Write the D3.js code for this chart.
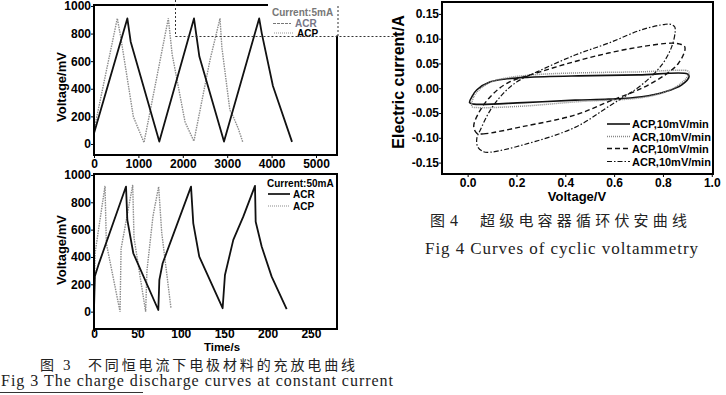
<!doctype html>
<html>
<head>
<meta charset="utf-8">
<style>
  body { margin: 0; background: #fff; }
  svg { display: block; font-family: "Liberation Sans", Arial, sans-serif; }
  .frame { fill: none; stroke: #000; stroke-width: 2; }
  .acr { fill: none; stroke: #111; stroke-width: 1.8; stroke-linejoin: round; }
  .acp { fill: none; stroke: #8c8c8c; stroke-width: 1.4; stroke-dasharray: 1.5 1; }
  .axis text { font-family: "Liberation Sans", Arial, sans-serif; font-size: 12px; font-weight: bold; fill: #000; }
  .axis line { stroke: #000; }
  .title { font-size: 13px; font-weight: bold; fill: #000; }
  .leg { font-size: 10px; font-weight: bold; fill: #000; }
  .leg2 { font-size: 11px; font-weight: bold; fill: #000; }
  .cap-zh { font-family: "Noto Sans CJK SC", sans-serif; font-size: 15px; fill: #222; }
  .cap-en { font-family: "Liberation Serif", "DejaVu Serif", serif; fill: #222; }
</style>
<script src="https://d3js.org/d3.v7.min.js"></script>
</head>
<body>
<svg width="726" height="395"></svg>
<script>
// ---- data ----
// Fig 3, 5mA: [time s, voltage mV]
var acr5mA = [[0,77],[751,910],[826,741],[1471,17],[2252,910],[2373,633],[2928,17],
              [3720,910],[3780,800],[4030,420],[4460,15]];
var acp5mA = [[0,100],[525,910],[600,778],[886,198],[1126,10],[1674,910],[1760,650],
              [2050,160],[2250,20],[2613,609],[2838,910],[2880,700],[3060,246],
              [3136,198],[3248,113],[3350,15]];
// Fig 3, 50mA
var acr50mA = [[0,20],[1,260],[5,340],[36.9,915],[38.4,671],[45.3,427],[74.1,12],
               [75.3,232],[79.1,354],[111.8,915],[114.4,646],[121.3,402],[148.2,25],
               [150.9,268],[160.5,525],[172,695],[185.5,920],[186.3,658],[193.2,476],
               [204.7,256],[222,18]];
var acp50mA = [[0,20],[1.2,427],[12.7,920],[14.2,500],[30,0],[31.2,460],[44.6,927],
               [46.1,540],[59.5,0],[61,300],[68,700],[74.5,915],[78,580],[88.7,25]];
var time5Ticks = [0,1000,2000,3000,4000,5000];
var time50Ticks = [0,50,100,150,200,250];
var voltTicks = [0,200,400,600,800,1000];

// Fig 4, cyclic voltammetry loops: [voltage V, current A]
var cvAcpSolid = [[0.008,-0.029],[0.02,-0.015],[0.038,-0.003],[0.093,0.013],[0.161,0.019],
                  [0.243,0.022],[0.454,0.025],[0.7,0.027],[0.9,0.029],[0.907,0.024],
                  [0.877,0.007],[0.809,-0.007],[0.713,-0.017],[0.577,-0.022],[0.44,-0.024],
                  [0.229,-0.029],[0.025,-0.032]];
var cvAcrDotted = [[0.018,-0.037],[0.025,-0.017],[0.05,-0.002],[0.093,0.012],[0.161,0.021],
                   [0.297,0.028],[0.454,0.031],[0.7,0.033],[0.902,0.035],[0.907,0.032],
                   [0.89,0.017],[0.822,-0.005],[0.713,-0.019],[0.454,-0.027],[0.229,-0.036],
                   [0.04,-0.039]];
var cvAcpDashed = [[0.038,-0.091],[0.065,-0.092],[0.229,-0.077],[0.44,-0.054],[0.577,-0.027],
                   [0.713,0.0],[0.809,0.027],[0.863,0.050],[0.89,0.077],[0.888,0.085],
                   [0.870,0.089],[0.836,0.091],[0.713,0.084],[0.577,0.071],[0.44,0.054],
                   [0.297,0.033],[0.161,0.010],[0.093,-0.017],[0.045,-0.050],[0.025,-0.077]];
var cvAcrDashDot = [[0.041,-0.118],[0.065,-0.128],[0.093,-0.129],[0.229,-0.114],[0.44,-0.079],
                    [0.577,-0.037],[0.713,0.007],[0.795,0.047],[0.836,0.084],[0.85,0.114],
                    [0.848,0.124],[0.832,0.129],[0.809,0.129],[0.713,0.118],[0.577,0.091],
                    [0.44,0.067],[0.284,0.033],[0.202,0.013],[0.147,-0.010],[0.093,-0.044],
                    [0.052,-0.084],[0.038,-0.100]];
var cvVoltTicks = [0.0,0.2,0.4,0.6,0.8,1.0];
var cvCurrTicks = [-0.15,-0.10,-0.05,0.00,0.05,0.10,0.15];
var cvLegend = ["ACP,10mV/min","ACR,10mV/min","ACP,10mV/min","ACR,10mV/min"];

var svg = d3.select("svg");

function panel(box, xDom, yDom, xTicks, yTicks, xFmt, yFmt, xPad) {
    var x = d3.scaleLinear().domain(xDom).range([box.l, box.r]);
    var y = d3.scaleLinear().domain(yDom).range([box.b, box.t]);

    svg.append("g")
       .attr("class", "axis")
       .attr("transform", "translate(0," + box.b + ")")
       .call(d3.axisBottom(x).tickValues(xTicks).tickFormat(xFmt).tickSize(3).tickPadding(xPad))
       .call(function(g) { g.select(".domain").remove(); });

    svg.append("g")
       .attr("class", "axis")
       .attr("transform", "translate(" + box.l + ",0)")
       .call(d3.axisLeft(y).tickValues(yTicks).tickFormat(yFmt).tickSize(3).tickPadding(0))
       .call(function(g) { g.select(".domain").remove(); });

    return { x: x, y: y };
}

function frame(box) {
    svg.append("rect")
       .attr("class", "frame")
       .attr("x", box.l).attr("y", box.t)
       .attr("width", box.r - box.l).attr("height", box.b - box.t);
}

function vtitle(txt, cx, cy, size) {
    svg.append("text")
       .attr("class", "title")
       .attr("transform", "translate(" + cx + "," + cy + ") rotate(-90)")
       .attr("text-anchor", "middle")
       .style("font-size", size + "px")
       .text(txt);
}

var intFmt = function(d) { return "" + d; };

// ---- Fig 3 top (5mA) ----
var boxA = { l: 94, r: 337, t: 5, b: 155 };
var A = panel(boxA, [0, 5473], [-80, 1007], time5Ticks, voltTicks, intFmt, intFmt, 1);
var lineA = d3.line().x(function(d) { return A.x(d[0]); }).y(function(d) { return A.y(d[1]); });
svg.append("path").attr("class", "acp").attr("d", lineA(acp5mA));
svg.append("path").attr("class", "acr").attr("d", lineA(acr5mA));
frame(boxA);
vtitle("Voltage/mV", 66, 87, 13);

// legend box of the top panel (partly washed out in the scan)
svg.append("rect").attr("x", 268).attr("y", 0).attr("width", 72).attr("height", 35.5).attr("fill", "#fff");
svg.append("text").attr("class", "leg").attr("x", 272).attr("y", 16).style("fill", "#777").text("Current:5mA");
svg.append("line").attr("x1", 273).attr("x2", 291).attr("y1", 23.5).attr("y2", 23.5)
   .attr("stroke", "#777").attr("stroke-width", 1).attr("stroke-dasharray", "3 1");
svg.append("text").attr("class", "leg").attr("x", 295).attr("y", 27).style("fill", "#778").text("ACR");
svg.append("line").attr("x1", 274).attr("x2", 294).attr("y1", 33).attr("y2", 33)
   .attr("stroke", "#999").attr("stroke-width", 1.2).attr("stroke-dasharray", "1 1");
svg.append("text").attr("class", "leg").attr("x", 297).attr("y", 37).text("ACP");

// dashed selection box left over in the scan
var dash = svg.append("g").attr("fill", "none").attr("stroke", "#333")
              .attr("stroke-width", 1).attr("stroke-dasharray", "2 2");
dash.append("line").attr("x1", 175.5).attr("x2", 175.5).attr("y1", 0).attr("y2", 36.5);
dash.append("line").attr("x1", 175.5).attr("x2", 398).attr("y1", 36.5).attr("y2", 36.5);
dash.append("line").attr("x1", 338).attr("x2", 338).attr("y1", 6).attr("y2", 36.5);

// ---- Fig 3 bottom (50mA) ----
var boxB = { l: 94, r: 337, t: 174, b: 329 };
var B = panel(boxB, [0, 280], [-127, 1007], time50Ticks, voltTicks, intFmt, intFmt, -3);
var lineB = d3.line().x(function(d) { return B.x(d[0]); }).y(function(d) { return B.y(d[1]); });
svg.append("path").attr("class", "acp").attr("d", lineB(acp50mA));
svg.append("path").attr("class", "acr").attr("d", lineB(acr50mA));
frame(boxB);
vtitle("Voltage/mV", 66, 250, 13);
svg.append("text").attr("class", "title").attr("x", 222).attr("y", 350.5)
   .attr("text-anchor", "middle").style("font-size", "11.5px").text("Time/s");

svg.append("text").attr("class", "leg").attr("x", 267).attr("y", 186.5).text("Current:50mA");
svg.append("line").attr("x1", 268).attr("x2", 290).attr("y1", 194).attr("y2", 194)
   .attr("stroke", "#000").attr("stroke-width", 1.6);
svg.append("text").attr("class", "leg").attr("x", 293).attr("y", 198).text("ACR");
svg.append("line").attr("x1", 268).attr("x2", 290).attr("y1", 206).attr("y2", 206)
   .attr("stroke", "#8c8c8c").attr("stroke-width", 1.2).attr("stroke-dasharray", "1 1");
svg.append("text").attr("class", "leg").attr("x", 293).attr("y", 210).text("ACP");

// ---- Fig 4 cyclic voltammetry ----
var boxC = { l: 442, r: 713, t: 2, b: 174 };
var C = panel(boxC, [-0.105, 1.005], [-0.173, 0.174], cvVoltTicks, cvCurrTicks,
              function(d) { return d.toFixed(1); }, function(d) { return d.toFixed(2); }, 1);
var loop = d3.line().curve(d3.curveCatmullRomClosed.alpha(0.5))
             .x(function(d) { return C.x(d[0]); }).y(function(d) { return C.y(d[1]); });

var cvStyles = [
    { data: cvAcpSolid,   stroke: "#111", width: 1.6, dash: null },
    { data: cvAcrDotted,  stroke: "#888", width: 1.5, dash: "1 1" },
    { data: cvAcpDashed,  stroke: "#111", width: 1.4, dash: "5 3" },
    { data: cvAcrDashDot, stroke: "#111", width: 1.2, dash: "5 2 1.5 2" }
];
cvStyles.forEach(function(s) {
    svg.append("path")
       .attr("d", loop(s.data))
       .attr("fill", "none")
       .attr("stroke", s.stroke)
       .attr("stroke-width", s.width)
       .attr("stroke-dasharray", s.dash);
});
frame(boxC);
vtitle("Electric current/A", 404, 82, 16);
svg.append("text").attr("class", "title").attr("x", 577).attr("y", 201)
   .attr("text-anchor", "middle").text("Voltage/V");

var legRows = [124, 136.5, 148.5, 161.5];
cvLegend.forEach(function(lab, i) {
    var s = cvStyles[i];
    svg.append("line").attr("x1", 607).attr("x2", 630)
       .attr("y1", legRows[i]).attr("y2", legRows[i])
       .attr("stroke", s.stroke).attr("stroke-width", s.width)
       .attr("stroke-dasharray", s.dash);
    svg.append("text").attr("class", "leg2").attr("x", 632).attr("y", legRows[i] + 4).text(lab);
});

// ---- captions ----
svg.append("text").attr("class", "cap-zh").attr("x", 40).attr("y", 369.5).style("font-size", "14px").text("图");
svg.append("text").attr("class", "cap-en").attr("x", 63).attr("y", 369.5).style("font-size", "15px").text("3");
svg.append("text").attr("class", "cap-zh").attr("x", 88).attr("y", 369.5).style("font-size", "14px")
   .attr("textLength", 267).attr("lengthAdjust", "spacing").text("不同恒电流下电极材料的充放电曲线");
svg.append("text").attr("class", "cap-en").attr("x", 1).attr("y", 386).style("font-size", "16px")
   .attr("textLength", 392).attr("lengthAdjust", "spacing")
   .text("Fig 3 The charge discharge curves at constant current");
svg.append("line").attr("x1", 0).attr("x2", 143).attr("y1", 392.5).attr("y2", 392.5)
   .attr("stroke", "#333").attr("stroke-width", 1);

svg.append("text").attr("class", "cap-zh").attr("x", 430).attr("y", 226).text("图");
svg.append("text").attr("class", "cap-en").attr("x", 450).attr("y", 226).style("font-size", "16px").text("4");
svg.append("text").attr("class", "cap-zh").attr("x", 480).attr("y", 226)
   .attr("textLength", 207).attr("lengthAdjust", "spacing").text("超级电容器循环伏安曲线");
svg.append("text").attr("class", "cap-en").attr("x", 425).attr("y", 254).style("font-size", "17px")
   .attr("textLength", 273).attr("lengthAdjust", "spacing")
   .text("Fig 4 Curves of cyclic voltammetry");
</script>
</body>
</html>
